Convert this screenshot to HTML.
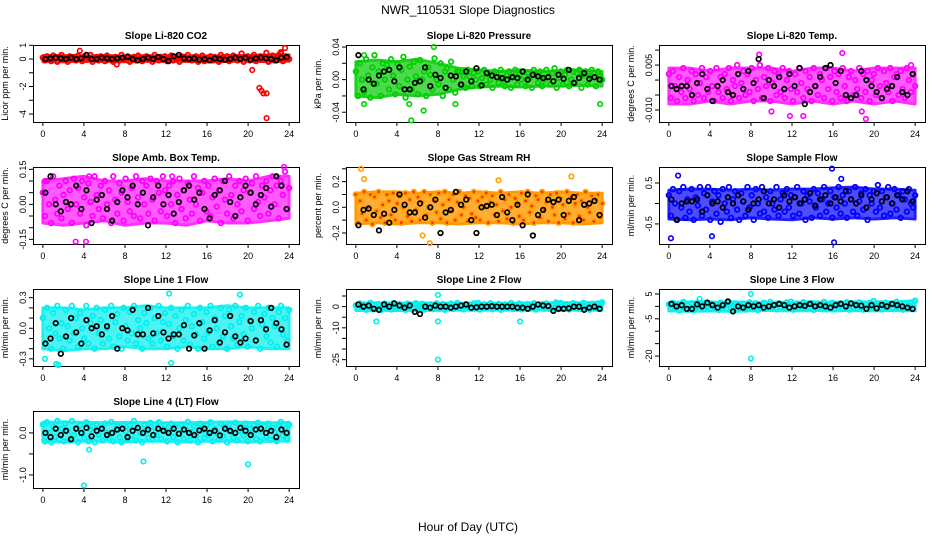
<!DOCTYPE html>
<html><head><meta charset="utf-8"><style>
body{margin:0;background:#fff}
svg{display:block;font-family:"Liberation Sans",sans-serif}
</style></head><body>
<svg id="c" width="936" height="540" xmlns="http://www.w3.org/2000/svg">
<text x="468" y="14" text-anchor="middle" font-size="12">NWR_110531  Slope Diagnostics</text>
<text x="468" y="531" text-anchor="middle" font-size="12">Hour of Day (UTC)</text>
</svg>
<script>
const titles=["Slope Li-820 CO2","Slope Li-820 Pressure","Slope Li-820 Temp.","Slope Amb. Box Temp.","Slope Gas Stream RH","Slope Sample Flow","Slope Line 1 Flow","Slope Line 2 Flow","Slope Line 3 Flow","Slope Line 4 (LT) Flow"];
const yLabels=["Licor ppm per min.","kPa per min.","degrees C per min.","degrees C per min.","percent per min.","ml/min per min.","ml/min per min.","ml/min per min.","ml/min per min.","ml/min per min."];
const colors=["#ff0000","#00d000","#ff00ff","#ff00ff","#ffa000","#0000ff","#00f0f0","#00f0f0","#00f0f0","#00f0f0"];
const bandColors=["#ff2020","#20d020","#ff30ff","#ff30ff","#ff9a00","#2020ff","#20f0f0","#20f0f0","#20f0f0","#20f0f0"];
const yRanges=[[-4.58,1.02],[-0.052,0.0425],[-0.014,0.0117],[-0.17,0.16],[-0.286,0.314],[-0.99,0.89],[-0.37,0.385],[-28,8.3],[-24,7],[-1.31,0.52]];
const yTicks=[[1,0,-1,-2,-3,-4],[0.04,0.02,0,-0.02,-0.04],[0.01,0.005,0,-0.005,-0.01],[0.15,0.1,0.05,0,-0.05,-0.1,-0.15],[0.3,0.2,0.1,0,-0.1,-0.2],[0.5,0,-0.5],[0.3,0.2,0.1,0,-0.1,-0.2,-0.3],[5,0,-5,-10,-15,-20,-25],[5,0,-5,-10,-15,-20],[0,-0.5,-1]];
const yTickLabels=[["1","0","","-2","","-4"],["0.04","","0.00","","-0.04"],["","0.005","","","-0.010"],["0.15","","","0.00","","","-0.15"],["","0.2","","0.0","","-0.2"],["0.5","","-0.5"],["0.3","","","0.0","","","-0.3"],["","0","","-10","","","-25"],["5","","-5","","","-20"],["0.0","","-1.0"]];
const xTicks=[0,4,8,12,16,20,24];
// dense-cloud envelopes, every 2 hours (0..24)
const bandLow=[[-0.18,-0.2,-0.15,-0.18,-0.2,-0.15,-0.18,-0.16,-0.2,-0.18,-0.15,-0.2,-0.15],[-0.02,-0.022,-0.018,-0.02,-0.018,-0.012,-0.009,-0.008,-0.009,-0.008,-0.008,-0.007,-0.008],[-0.008,-0.008,-0.007,-0.008,-0.007,-0.007,-0.008,-0.007,-0.008,-0.007,-0.008,-0.007,-0.008],[-0.08,-0.09,-0.08,-0.07,-0.09,-0.08,-0.08,-0.09,-0.07,-0.08,-0.08,-0.07,-0.06],[-0.13,-0.12,-0.13,-0.12,-0.12,-0.13,-0.12,-0.12,-0.13,-0.12,-0.12,-0.13,-0.12],[-0.38,-0.4,-0.38,-0.4,-0.35,-0.38,-0.4,-0.35,-0.38,-0.35,-0.38,-0.35,-0.38],[-0.2,-0.22,-0.2,-0.2,-0.18,-0.2,-0.2,-0.18,-0.2,-0.2,-0.18,-0.2,-0.2],[-1.8,-2,-1.8,-2,-1.8,-1.6,-1.8,-1.6,-1.8,-1.6,-1.8,-1.6,-1.8],[-1.8,-2,-1.8,-2,-1.8,-1.6,-1.8,-1.6,-1.8,-1.6,-1.8,-1.6,-1.8],[-0.2,-0.22,-0.2,-0.2,-0.22,-0.2,-0.2,-0.22,-0.2,-0.2,-0.22,-0.2,-0.2]];
const bandHigh=[[0.25,0.25,0.22,0.25,0.22,0.25,0.22,0.25,0.22,0.25,0.25,0.3,0.3],[0.022,0.024,0.022,0.025,0.02,0.014,0.012,0.01,0.012,0.01,0.011,0.012,0.01],[0.004,0.004,0.003,0.004,0.004,0.004,0.003,0.004,0.004,0.003,0.004,0.004,0.004],[0.1,0.11,0.12,0.1,0.1,0.11,0.1,0.1,0.1,0.11,0.1,0.12,0.12],[0.11,0.12,0.12,0.11,0.12,0.11,0.12,0.11,0.12,0.11,0.12,0.11,0.11],[0.32,0.35,0.35,0.32,0.35,0.32,0.35,0.35,0.38,0.4,0.35,0.35,0.32],[0.2,0.2,0.18,0.2,0.2,0.22,0.2,0.2,0.2,0.22,0.2,0.2,0.2],[1.6,1.8,1.6,1.8,1.6,1.6,1.6,1.6,1.6,1.8,1.8,1.8,2],[1.6,1.8,1.6,1.8,1.6,1.6,1.6,1.8,1.6,1.8,1.8,1.8,2.2],[0.25,0.26,0.25,0.24,0.25,0.25,0.24,0.24,0.25,0.26,0.25,0.24,0.25]];
// colored (all-sample) series, 120 values each, hours 0..24 evenly
const cCO2=[0.1,-0.1,0.2,0,-0.15,0.25,0.05,-0.2,0.15,0.3,-0.05,0.1,-0.2,0.2,0,0.15,-0.1,0.25,0.05,-0.15,0.2,-0.05,0.1,0.3,-0.2,0,0.15,-0.1,0.2,0.05,-0.15,0.25,0,0.1,-0.2,0.15,0.05,-0.1,0.3,0,-0.05,0.2,-0.2,0.1,0.15,-0.1,0.25,0,-0.15,0.1,0.2,-0.05,0.05,-0.2,0.3,0.1,-0.1,0.15,0,0.2,-0.15,0.05,0.25,-0.1,0.1,0,-0.2,0.2,0.15,-0.05,0.3,0,-0.1,0.1,0.2,-0.2,0.05,0.25,-0.15,0.1,0,0.2,-0.1,0.15,0.05,-0.2,0.3,0.1,-0.05,0.2,-0.15,0,0.25,0.1,-0.1,0.15,0.4,-0.2,0.05,0.2,-0.1,0.1,0.3,-0.15,0,0.2,-0.05,0.15,0.45,-0.2,0.1,0.25,-0.1,0.05,0.3,0.5,-0.15,0.2,0.1,0];
const cPres=[0.01,-0.02,0.02,0,-0.015,0.025,0.005,-0.022,0.015,0.03,-0.005,0.01,-0.02,0.02,0,0.018,-0.012,0.025,0.005,-0.018,0.02,-0.008,0.012,0.028,-0.022,0,0.016,-0.012,0.022,0.004,-0.018,0.024,0,0.01,-0.02,0.015,0.006,-0.012,0.026,0,-0.006,0.02,-0.02,0.01,0.014,-0.012,0.022,0,-0.016,0.01,0.01,-0.006,0.004,-0.01,0.012,0.004,-0.008,0.008,0,0.01,-0.008,0.002,0.012,-0.006,0.006,0,-0.01,0.01,0.008,-0.004,0.012,0,-0.008,0.006,0.01,-0.01,0.004,0.012,-0.006,0.006,0,0.01,-0.008,0.008,0.002,-0.01,0.012,0.006,-0.004,0.01,-0.008,0,0.012,0.004,-0.006,0.008,0.014,-0.01,0.002,0.01,-0.006,0.006,0.012,-0.008,0,0.01,-0.004,0.008,0.012,-0.01,0.006,0.01,-0.006,0.004,0.012,0.008,-0.008,0.01,0.004,0];
const cTemp=[0.002,-0.006,0.003,-0.002,-0.007,0.001,-0.004,0.004,-0.006,0,-0.003,0.003,-0.007,0.002,-0.005,-0.001,0.004,-0.006,0.001,-0.004,0.003,-0.002,-0.007,0.004,-0.004,0.001,-0.006,0.002,-0.003,0.004,-0.007,0,-0.002,0.005,-0.006,-0.001,0.003,-0.005,0.002,-0.004,0.004,-0.007,0,-0.003,0.005,-0.006,0.001,-0.002,0.004,-0.007,-0.001,0.003,-0.005,0.002,-0.004,0.004,-0.006,0,0.003,-0.003,-0.007,0.002,-0.004,0.004,-0.001,-0.006,0.003,-0.003,0.001,-0.007,0.004,-0.002,-0.005,0.002,0,-0.006,0.004,-0.003,0.001,-0.007,0.003,-0.004,0.002,-0.006,0.004,-0.002,-0.007,0.001,0.003,-0.005,0,-0.003,0.004,-0.006,0.002,-0.004,0.003,-0.007,0,0.002,-0.005,0.004,-0.002,-0.006,0.003,-0.001,-0.004,0.004,-0.007,0.001,0.002,-0.005,0.003,-0.003,-0.006,0.004,0,-0.004,0.002,-0.002];
const cAmb=[0.05,-0.05,0.1,0,-0.08,0.12,0.02,-0.04,0.08,-0.06,0.04,0.1,-0.02,0.06,-0.08,0.11,0,0.07,-0.04,0.1,0.03,-0.09,0.09,0.01,-0.05,0.12,0.04,-0.02,0.08,-0.06,0.1,0,0.06,-0.08,0.12,0.02,-0.04,0.09,0.05,-0.07,0.11,0.01,-0.03,0.07,-0.05,0.12,0.03,-0.06,0.1,0,0.08,-0.04,0.11,0.02,-0.07,0.1,0.05,-0.03,0.12,0.06,-0.05,0.08,0,0.1,-0.08,0.04,0.11,-0.02,0.06,-0.06,0.09,0.02,-0.04,0.12,0,0.07,-0.07,0.05,0.1,-0.03,0.08,-0.05,0.03,0.11,-0.01,0.06,-0.08,0.1,0.02,-0.04,0.12,0.04,-0.06,0.08,0,0.1,-0.03,0.06,0.11,-0.07,0.05,0.09,-0.02,0.12,0.01,-0.05,0.08,0.03,0.1,-0.04,0.06,0.12,0,0.08,-0.06,0.1,0.04,0.14,-0.02,0.07];
const cRH=[0.1,-0.12,0.05,-0.05,0.12,-0.1,0,0.1,-0.13,0.08,-0.03,0.12,-0.08,0.02,-0.12,0.1,0.05,-0.06,0.11,-0.1,0.03,0.09,-0.12,0,0.11,-0.07,0.06,-0.11,0.12,-0.02,0.08,-0.1,0.04,0.12,-0.06,0,0.1,-0.12,0.05,-0.04,0.11,-0.09,0.02,0.12,-0.12,0.06,-0.03,0.1,-0.1,0.04,0.12,-0.06,0,0.09,-0.11,0.07,-0.05,0.12,-0.08,0.05,-0.1,0.08,0,0.11,-0.12,0.04,0.09,-0.06,0.02,-0.11,0.12,-0.03,0.06,-0.09,0.1,0,-0.12,0.07,0.03,-0.07,0.11,-0.1,0.05,0.12,-0.04,0.01,-0.12,0.09,0.06,-0.08,0.12,-0.02,0.04,-0.11,0.1,0,-0.06,0.11,-0.12,0.07,0.02,-0.09,0.12,-0.05,0.08,-0.12,0.03,0.1,-0.07,0.05,-0.1,0.12,0,-0.04,0.09,-0.11,0.06,0.1,-0.08,0.03];
const cFlow=[0.2,-0.3,0.35,0,-0.4,0.3,-0.1,0.4,-0.35,0.1,-0.2,0.35,-0.4,0.15,-0.05,0.4,-0.3,0.25,-0.15,0.4,-0.4,0.05,0.3,-0.25,0.2,-0.45,0.35,0,-0.2,0.4,-0.35,0.1,0.3,-0.15,-0.4,0.25,0.05,-0.3,0.4,-0.1,0.2,-0.4,0.35,0,-0.25,0.4,-0.2,0.15,-0.35,0.3,0,-0.15,0.4,-0.3,0.1,0.25,-0.2,0.35,-0.1,0.2,-0.3,0.15,0.4,-0.25,0,0.3,-0.4,0.2,0.05,-0.35,0.35,-0.1,0.25,-0.3,0.1,0.4,-0.2,0,0.3,-0.35,0.15,-0.1,0.4,-0.25,0.2,0,-0.35,0.3,0.1,-0.2,0.4,-0.3,0.05,0.25,-0.15,0.35,-0.4,0.2,0,0.3,-0.2,0.45,-0.1,0.3,-0.3,0.15,0.4,-0.25,0,0.35,-0.15,0.2,-0.35,0.3,0.1,-0.2,0.35,0,-0.1,0.2];
const cL1=[0.1,-0.15,0.2,0,-0.2,0.15,-0.05,0.22,-0.1,0.05,-0.2,0.18,0.02,-0.12,0.22,-0.05,0.1,-0.18,0.15,0,-0.1,0.22,-0.15,0.05,0.12,-0.2,0.2,-0.05,0.08,-0.15,0.18,0,-0.1,0.22,-0.18,0.06,0.14,-0.08,-0.2,0.2,0.02,-0.12,0.16,-0.05,0.22,-0.15,0.08,0,-0.2,0.15,0.05,-0.1,0.2,-0.15,0.1,-0.05,0.22,-0.12,0.06,0.15,-0.18,0.04,0.2,-0.08,0.12,-0.2,0,0.18,-0.12,0.08,0.22,-0.16,0.02,0.14,-0.06,-0.2,0.2,0.06,-0.1,0.16,-0.04,0.22,-0.18,0.1,0,-0.14,0.2,-0.08,0.12,-0.2,0.18,0.02,-0.1,0.22,-0.16,0.06,0.12,-0.06,0.2,-0.18,0.08,0,0.16,-0.12,0.22,-0.2,0.04,0.14,-0.08,0.2,-0.14,0.1,0.02,-0.18,0.16,0.22,-0.06,0.1,-0.12,0.18];
const cL2=[0.5,-1,1.5,-0.5,1,-1.5,0,1.8,-1.2,0.6,-0.8,1.2,-1.6,0.3,1.5,-0.6,0.8,-1.3,1.6,0,-1,1.2,-0.4,0.7,-1.5,1.4,-0.2,0.9,-1.1,1.6,-0.7,0.2,1.3,-1.4,0.5,-0.3,1.1,-1.2,0.6,1.5,-0.9,0,1.2,-1.5,0.8,-0.4,1.4,-1.1,0.3,1.7,-0.8,0.5,-1.3,1.2,-0.2,0.9,-1,1.5,-0.6,1.8,-1.4,0.4,1.1,-0.7,0,1.6,-1.2,0.8,-0.3,1.3,-1.5,0.6,1,-0.9,0.2,1.7,-1.1,0.5,-0.5,1.4,-1.3,0.9,0,1.2,-0.8,0.3,1.6,-1.4,0.7,-0.2,1.1,-1,1.5,0.4,-1.2,0.8,-0.6,1.3,0,1.7,-0.9,0.6,1.2,-1.3,0.2,1.6,-0.7,1,-1.1,0.4,1.8,-0.5,0.9,-1.4,1.3,0,-0.8,1.5,0.6,2];
const cL3=[0.8,-1.2,1.4,-0.4,0.9,-1.6,0.2,1.8,-1,0.5,-0.9,1.3,-1.5,0.4,1.6,-0.7,0.9,-1.2,1.5,0,-1.1,1.2,-0.5,0.8,-1.4,1.5,-0.3,1,-1,1.7,-0.6,0.3,1.2,-1.3,0.6,-0.2,1.1,-1.3,0.7,1.6,-0.8,0.1,1.3,-1.4,0.9,-0.5,1.5,-1,0.4,1.8,-0.7,0.6,-1.2,1.3,-0.3,1,-0.9,1.6,-0.5,1.9,-1.3,0.5,1.2,-0.8,0.1,1.7,-1.1,0.9,-0.4,1.4,-1.4,0.7,1.1,-1,0.3,1.8,-1.2,0.4,-0.6,1.5,-1.2,1,0.1,1.3,-0.9,0.2,1.7,-1.3,0.8,-0.1,1.2,-1.1,1.6,0.5,-1.3,0.9,-0.5,1.4,0.2,2.2,-0.8,0.7,1.3,-1.2,0.3,1.5,-0.8,1.1,-1,0.5,1.9,-0.6,1,-1.3,1.4,0.1,-0.9,1.6,0.7,2.3];
const cL4=[0.2,-0.2,0.25,0,-0.22,0.15,-0.1,0.28,-0.15,0.1,-0.2,0.22,0.05,-0.18,0.28,-0.05,0.12,-0.22,0.18,0,-0.12,0.25,-0.2,0.08,0.15,-0.22,0.2,-0.05,0.1,-0.18,0.22,0,-0.12,0.26,-0.2,0.06,0.16,-0.1,-0.22,0.2,0.04,-0.15,0.18,-0.06,0.28,-0.18,0.1,0,-0.22,0.18,0.06,-0.12,0.24,-0.16,0.12,-0.05,0.25,-0.14,0.08,0.18,-0.2,0.05,0.22,-0.1,0.14,-0.22,0,0.2,-0.14,0.08,0.26,-0.18,0.02,0.16,-0.08,-0.22,0.22,0.06,-0.12,0.18,-0.05,0.25,-0.2,0.1,0,-0.16,0.22,-0.08,0.14,-0.22,0.2,0.02,-0.12,0.24,-0.18,0.06,0.14,-0.06,0.22,-0.2,0.1,0,0.18,-0.14,0.24,-0.2,0.04,0.16,-0.1,0.22,-0.16,0.12,0.02,-0.2,0.18,0.26,-0.06,0.1,-0.14,0.2];
// black (hourly means) series, 48 values, half-hourly
const kCO2=[0,0.05,0.1,0.05,0,0.1,0,0.05,0.3,0,0,0.1,0.05,0,0.05,0.1,0.15,0,-0.1,0,0.1,0,0.15,0,-0.15,0.2,0.3,0.05,0,0.05,-0.05,0,-0.1,0.05,0,-0.05,0,0.1,0,0.1,-0.05,0.05,0.1,0.05,0,-0.1,0.1,0.15];
const kPres=[0.03,-0.012,0,-0.005,0.005,0.01,0.012,-0.002,0.015,-0.012,-0.012,-0.004,-0.002,0.015,-0.008,0.006,0.002,-0.01,0.005,0.004,-0.006,0.01,-0.002,0.014,-0.007,0.008,0.005,0.003,0.002,0,0.003,0.002,0.01,0,0.006,0.004,0.002,0.003,-0.002,0.006,0.001,0.012,-0.004,0.002,0.008,0.001,0.003,0];
const kTemp=[-0.002,-0.003,-0.002,-0.002,-0.005,-0.001,0.002,-0.003,-0.007,-0.002,0,-0.004,-0.005,0.002,-0.003,0.003,-0.001,0.007,-0.006,0,-0.002,0.001,-0.003,0.002,-0.002,0.004,-0.008,-0.004,-0.002,0.001,0.004,0.005,-0.001,0.003,-0.005,-0.006,-0.005,0.003,0,-0.002,-0.004,-0.006,-0.003,-0.002,0.001,-0.004,-0.005,0.002];
const kAmb=[0.05,0.12,0.0,-0.03,0.01,0.0,0.08,-0.02,0.06,-0.08,0.02,0.04,-0.02,-0.07,0.01,0.06,0.03,0.08,0,0.05,-0.09,0.03,0.08,0,0.04,-0.04,0.01,0.06,0.08,0.02,0.05,-0.02,-0.06,0.04,0.06,0.1,0.01,-0.05,0.03,0.08,0.05,0,0.04,0.07,-0.01,0.12,0.08,-0.02];
const kRH=[-0.14,-0.02,-0.01,-0.06,-0.18,-0.05,-0.12,-0.02,0.1,0.02,-0.04,-0.04,0.03,-0.08,0,0.06,-0.2,-0.04,-0.02,0.12,0.02,0.06,-0.1,-0.2,0,0.01,0.02,-0.06,0.08,-0.04,-0.1,0.02,-0.14,0.1,-0.22,-0.06,-0.02,0.06,0.04,0.06,-0.06,0.05,0.08,-0.1,0.02,0.03,0.05,-0.06];
const kFlow=[0.1,-0.4,0,0.05,0.05,0.1,-0.2,0.2,0,0.05,-0.1,0.15,0,0.2,0.05,-0.15,0,0.1,0.3,0,0.1,-0.1,0.2,0.05,0.15,0,0.1,0.25,-0.05,0.1,0.2,0,0.15,0.05,0.3,0.1,0,0.2,-0.1,0.1,0.25,0.05,0.15,0,0.2,0.1,0.3,0.05];
const kL1=[-0.15,-0.1,0.05,-0.25,-0.08,0.1,-0.04,-0.15,0.08,0,0.02,-0.06,0.02,0.12,-0.2,0,-0.02,0.18,-0.06,-0.06,0.2,-0.05,0.12,-0.04,-0.1,-0.06,-0.06,0.03,-0.2,-0.07,0.05,-0.2,-0.02,0.08,-0.14,-0.04,0.12,-0.08,-0.14,-0.1,0.07,-0.12,0.08,-0.01,0.2,0.05,-0.01,-0.16];
const kL2=[1,0,0.5,-1,-1.5,1,0,1.5,0.5,-0.5,0.5,-2.5,-3.5,0,-0.5,0.5,0,0,-0.5,0,0.5,1,-0.5,-0.3,0,0,0.2,0,0,0,0,-0.5,-0.5,-1,0,1,0.5,0.3,-2,-1,-1,-0.8,0,0,-1.5,-0.5,0,-1];
const kL3=[1,0,0.5,-1,-1,0.8,0,1.5,0.5,-0.5,0.5,2,-2,0,-0.5,0.5,0,0.5,-0.5,0,0.5,1,0.5,-0.5,0,0.5,0.2,1,0,0.5,0,-0.5,0.5,1,0,1.2,0.5,0.3,-1,0.5,-0.8,0.6,0,1,0.5,0,-0.5,-1];
const kL4=[0,-0.1,0.1,-0.05,0.05,-0.15,0.1,0,0.12,-0.08,0.05,0.1,-0.05,0,0.08,0.1,-0.1,0.05,0.12,0,0.08,-0.05,0.1,0.05,0,0.1,-0.02,0.08,0,-0.05,0.06,0.1,0,0.05,-0.06,0.1,0.05,0,0.12,0.05,-0.05,0.08,0.1,0,0.05,-0.1,0.08,0];
// outlier points (hour, value)
const oHours=[[3.6,7.2,20.4,21.1,21.3,21.5,21.8,21.8,23.6,23.2],[0.8,0.8,5.4,7.6,5.2,23.8,6.6,9.7],[8.8,10,11.8,13.1,18.8,19.2,23.6,16.9],[0.2,3.2,4.2,4.5,23.5,12.6],[0.5,7.2,6.5,21,13.9,0.8],[0.2,15.9,16.1,4.2,0.9,16.8],[12.3,19.2,0.2,1.3,1.5,12.5],[8,8,8,2,16,19.5],[8,8,3],[4,20,4.5,9.8]];
const oVals=[[0.6,-0.4,-0.8,-2.1,-2.3,-2.5,-2.5,-4.3,0.8,0.4],[0.03,-0.03,-0.05,0.04,-0.03,-0.03,-0.038,-0.03],[0.0085,-0.0105,-0.012,-0.012,-0.0105,-0.013,0.005,0.009],[0.1,-0.16,-0.16,0.12,0.16,0.12],[0.3,-0.28,-0.22,0.24,0.21,0.22],[-0.85,0.85,-0.95,-0.8,0.68,0.6],[0.34,0.33,-0.3,-0.35,-0.36,-0.34],[-25,5.5,-7,-7,-7,2],[-21,5,3],[-1.25,-0.75,-0.4,-0.68]];
const cData=[cCO2,cPres,cTemp,cAmb,cRH,cFlow,cL1,cL2,cL3,cL4];
const kData=[kCO2,kPres,kTemp,kAmb,kRH,kFlow,kL1,kL2,kL3,kL4];

const svg=document.getElementById('c');
const NS="http://www.w3.org/2000/svg";
function mk(tag,attrs,parent){const e=document.createElementNS(NS,tag);for(const k in attrs)e.setAttribute(k,attrs[k]);(parent||svg).appendChild(e);return e;}
const lefts=[33,346,659], tops=[45,167,289,411], W=266, H=77;
for(let p=0;p<10;p++){
  const L=lefts[p%3], T=tops[Math.floor(p/3)];
  const g=mk('g',{});
  
  
  const [y0,y1]=yRanges[p];
  const X=h=>L+(h+0.96)*(W/25.92);
  const Y=v=>T+H-(v-y0)/(y1-y0)*H;
  const t=mk('text',{x:L+W/2,y:T-6,'text-anchor':'middle','font-size':'10','font-weight':'bold'},g);
  t.textContent=titles[p];
  
  
  const yl=mk('text',{transform:`translate(${L-25},${T+H/2}) rotate(-90)`,'text-anchor':'middle','font-size':'9'},g);
  yl.textContent=yLabels[p];
  
  
  xTicks.forEach(h=>{
    mk('line',{x1:X(h),x2:X(h),y1:T+H,y2:T+H+4,stroke:'#000'},g);
    const tx=mk('text',{x:X(h),y:T+H+15,'text-anchor':'middle','font-size':'9'},g);
    tx.textContent=h;
    
    
  });
  mk('line',{x1:X(0),x2:X(24),y1:T+H+0.5,y2:T+H+0.5,stroke:'#000'},g);
  yTicks[p].forEach((v,i)=>{
    mk('line',{x1:L-4,x2:L,y1:Y(v),y2:Y(v),stroke:'#000'},g);
    const ty=mk('text',{transform:`translate(${L-7},${Y(v)}) rotate(-90)`,'text-anchor':'middle','font-size':'9'},g);
    ty.textContent=yTickLabels[p][i];
    
    
  });
  mk('rect',{x:L+0.5,y:T+0.5,width:W,height:H,fill:'none',stroke:'#000'},g);
  // dense cloud envelope
  const lo=bandLow[p], hi=bandHigh[p];
  let d='';
  hi.forEach((v,i)=>{d+=(i?'L':'M')+X(i*2).toFixed(1)+','+Y(v).toFixed(1);});
  for(let i=lo.length-1;i>=0;i--)d+='L'+X(i*2).toFixed(1)+','+Y(lo[i]).toFixed(1);
  const band=mk('path',{d:d+'Z',fill:bandColors[p],'fill-opacity':0.8,stroke:bandColors[p],'stroke-width':3,'stroke-linejoin':'round'},g);
  
  
  const pts=mk('g',{},g);
  const cd=cData[p];
  cd.forEach((v,i)=>{
    const h=i*24/(cd.length-1);
    const c=mk('circle',{cx:X(h),cy:Y(v),r:2.3,fill:p===4?'#ff3000':'none',stroke:colors[p],'stroke-width':1.8},pts);
    
    
  });
  oHours[p].forEach((h,i)=>{
    const c=mk('circle',{cx:X(h),cy:Y(oVals[p][i]),r:2.3,fill:'none',stroke:colors[p],'stroke-width':1.6},pts);
    
    
  });
  kData[p].forEach((v,i)=>{
    const h=i*0.5+0.25;
    const c=mk('circle',{cx:X(h),cy:Y(v),r:2.3,fill:'none',stroke:'#000','stroke-width':1.7},pts);
    
    
  });
}
</script>
</body></html>
